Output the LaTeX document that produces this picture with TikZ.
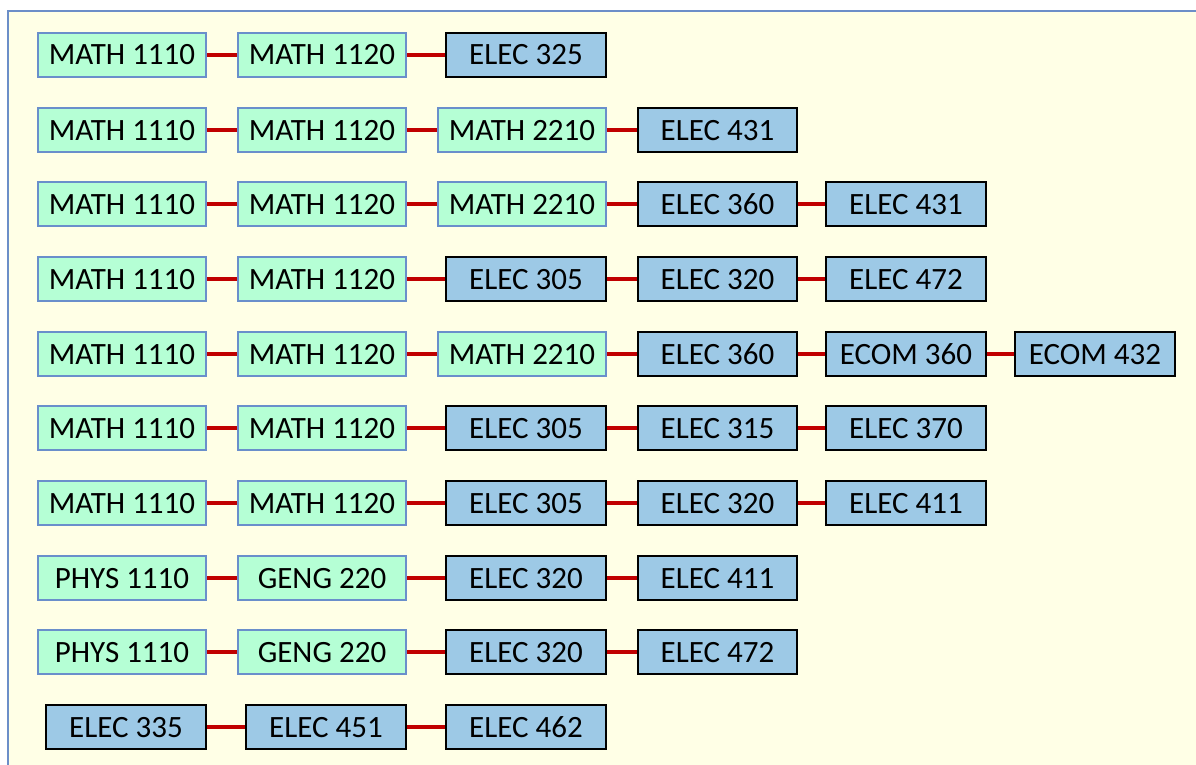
\documentclass[tikz,border=0pt]{standalone}
\usepackage{fontspec}
\setmainfont{Carlito}
\definecolor{bgyellow}{RGB}{255,255,230}
\definecolor{framebl}{RGB}{108,142,200}
\definecolor{gfill}{RGB}{181,255,213}
\definecolor{gline}{RGB}{106,143,203}
\definecolor{bfill}{RGB}{157,201,230}
\definecolor{redline}{RGB}{192,0,0}
\tikzset{
  base/.style={rectangle, inner sep=0pt, minimum height=44pt, text height=20pt, text depth=0pt,
    font=\fontsize{31}{37}\selectfont, text=black},
  gbox/.style={base, fill=gfill, draw=gline, line width=2pt, minimum width=168pt},
  bbox/.style={base, fill=bfill, draw=black, line width=2pt, minimum width=160pt},
  link/.style={draw=redline, line width=4.5pt}
}
\begin{document}
\begin{tikzpicture}[x=1pt,y=-1pt]
\useasboundingbox (0,0) rectangle (1196,765);
\fill[white] (0,0) rectangle (1196,765);
\begin{scope}
\clip (0,0) rectangle (1196,765);
\draw[fill=bgyellow, draw=framebl, line width=2.5pt] (8,11) rectangle (1210,780);
\end{scope}
% Row 1
\node[gbox] (r1c1) at (122,55) {MATH 1110};
\node[gbox] (r1c2) at (322,55) {MATH 1120};
\node[bbox] (r1c3) at (526,55) {ELEC 325};
% Row 2
\node[gbox] (r2c1) at (122,130) {MATH 1110};
\node[gbox] (r2c2) at (322,130) {MATH 1120};
\node[gbox] (r2c3) at (522,130) {MATH 2210};
\node[bbox, minimum width=159pt] (r2c4) at (717.5,130) {ELEC 431};
% Row 3
\node[gbox] (r3c1) at (122,204) {MATH 1110};
\node[gbox] (r3c2) at (322,204) {MATH 1120};
\node[gbox] (r3c3) at (522,204) {MATH 2210};
\node[bbox, minimum width=159pt] (r3c4) at (717.5,204) {ELEC 360};
\node[bbox] (r3c5) at (906,204) {ELEC 431};
% Row 4
\node[gbox] (r4c1) at (122,279) {MATH 1110};
\node[gbox] (r4c2) at (322,279) {MATH 1120};
\node[bbox] (r4c3) at (526,279) {ELEC 305};
\node[bbox, minimum width=159pt] (r4c4) at (717.5,279) {ELEC 320};
\node[bbox] (r4c5) at (906,279) {ELEC 472};
% Row 5
\node[gbox] (r5c1) at (122,354) {MATH 1110};
\node[gbox] (r5c2) at (322,354) {MATH 1120};
\node[gbox] (r5c3) at (522,354) {MATH 2210};
\node[bbox, minimum width=159pt] (r5c4) at (717.5,354) {ELEC 360};
\node[bbox] (r5c5) at (906,354) {ECOM 360};
\node[bbox] (r5c6) at (1095,354) {ECOM 432};
% Row 6
\node[gbox] (r6c1) at (122,428) {MATH 1110};
\node[gbox] (r6c2) at (322,428) {MATH 1120};
\node[bbox] (r6c3) at (526,428) {ELEC 305};
\node[bbox, minimum width=159pt] (r6c4) at (717.5,428) {ELEC 315};
\node[bbox] (r6c5) at (906,428) {ELEC 370};
% Row 7
\node[gbox] (r7c1) at (122,503) {MATH 1110};
\node[gbox] (r7c2) at (322,503) {MATH 1120};
\node[bbox] (r7c3) at (526,503) {ELEC 305};
\node[bbox, minimum width=159pt] (r7c4) at (717.5,503) {ELEC 320};
\node[bbox] (r7c5) at (906,503) {ELEC 411};
% Row 8
\node[gbox] (r8c1) at (122,578) {PHYS 1110};
\node[gbox] (r8c2) at (322,578) {GENG 220};
\node[bbox] (r8c3) at (526,578) {ELEC 320};
\node[bbox, minimum width=159pt] (r8c4) at (717.5,578) {ELEC 411};
% Row 9
\node[gbox] (r9c1) at (122,652) {PHYS 1110};
\node[gbox] (r9c2) at (322,652) {GENG 220};
\node[bbox] (r9c3) at (526,652) {ELEC 320};
\node[bbox, minimum width=159pt] (r9c4) at (717.5,652) {ELEC 472};
% Row 10
\node[bbox] (r10c1) at (126,727) {ELEC 335};
\node[bbox] (r10c2) at (326,727) {ELEC 451};
\node[bbox] (r10c3) at (526,727) {ELEC 462};
% Connectors
\foreach \r/\n in {1/3,2/4,3/5,4/5,5/6,6/5,7/5,8/4,9/4,10/3}{
  \foreach \c [evaluate=\c as \d using int(\c+1)] in {1,...,\n}{
    \ifnum\c<\n
      \draw[link] (r\r c\c.east) -- (r\r c\d.west);
    \fi
  }
}
\end{tikzpicture}
\end{document}
